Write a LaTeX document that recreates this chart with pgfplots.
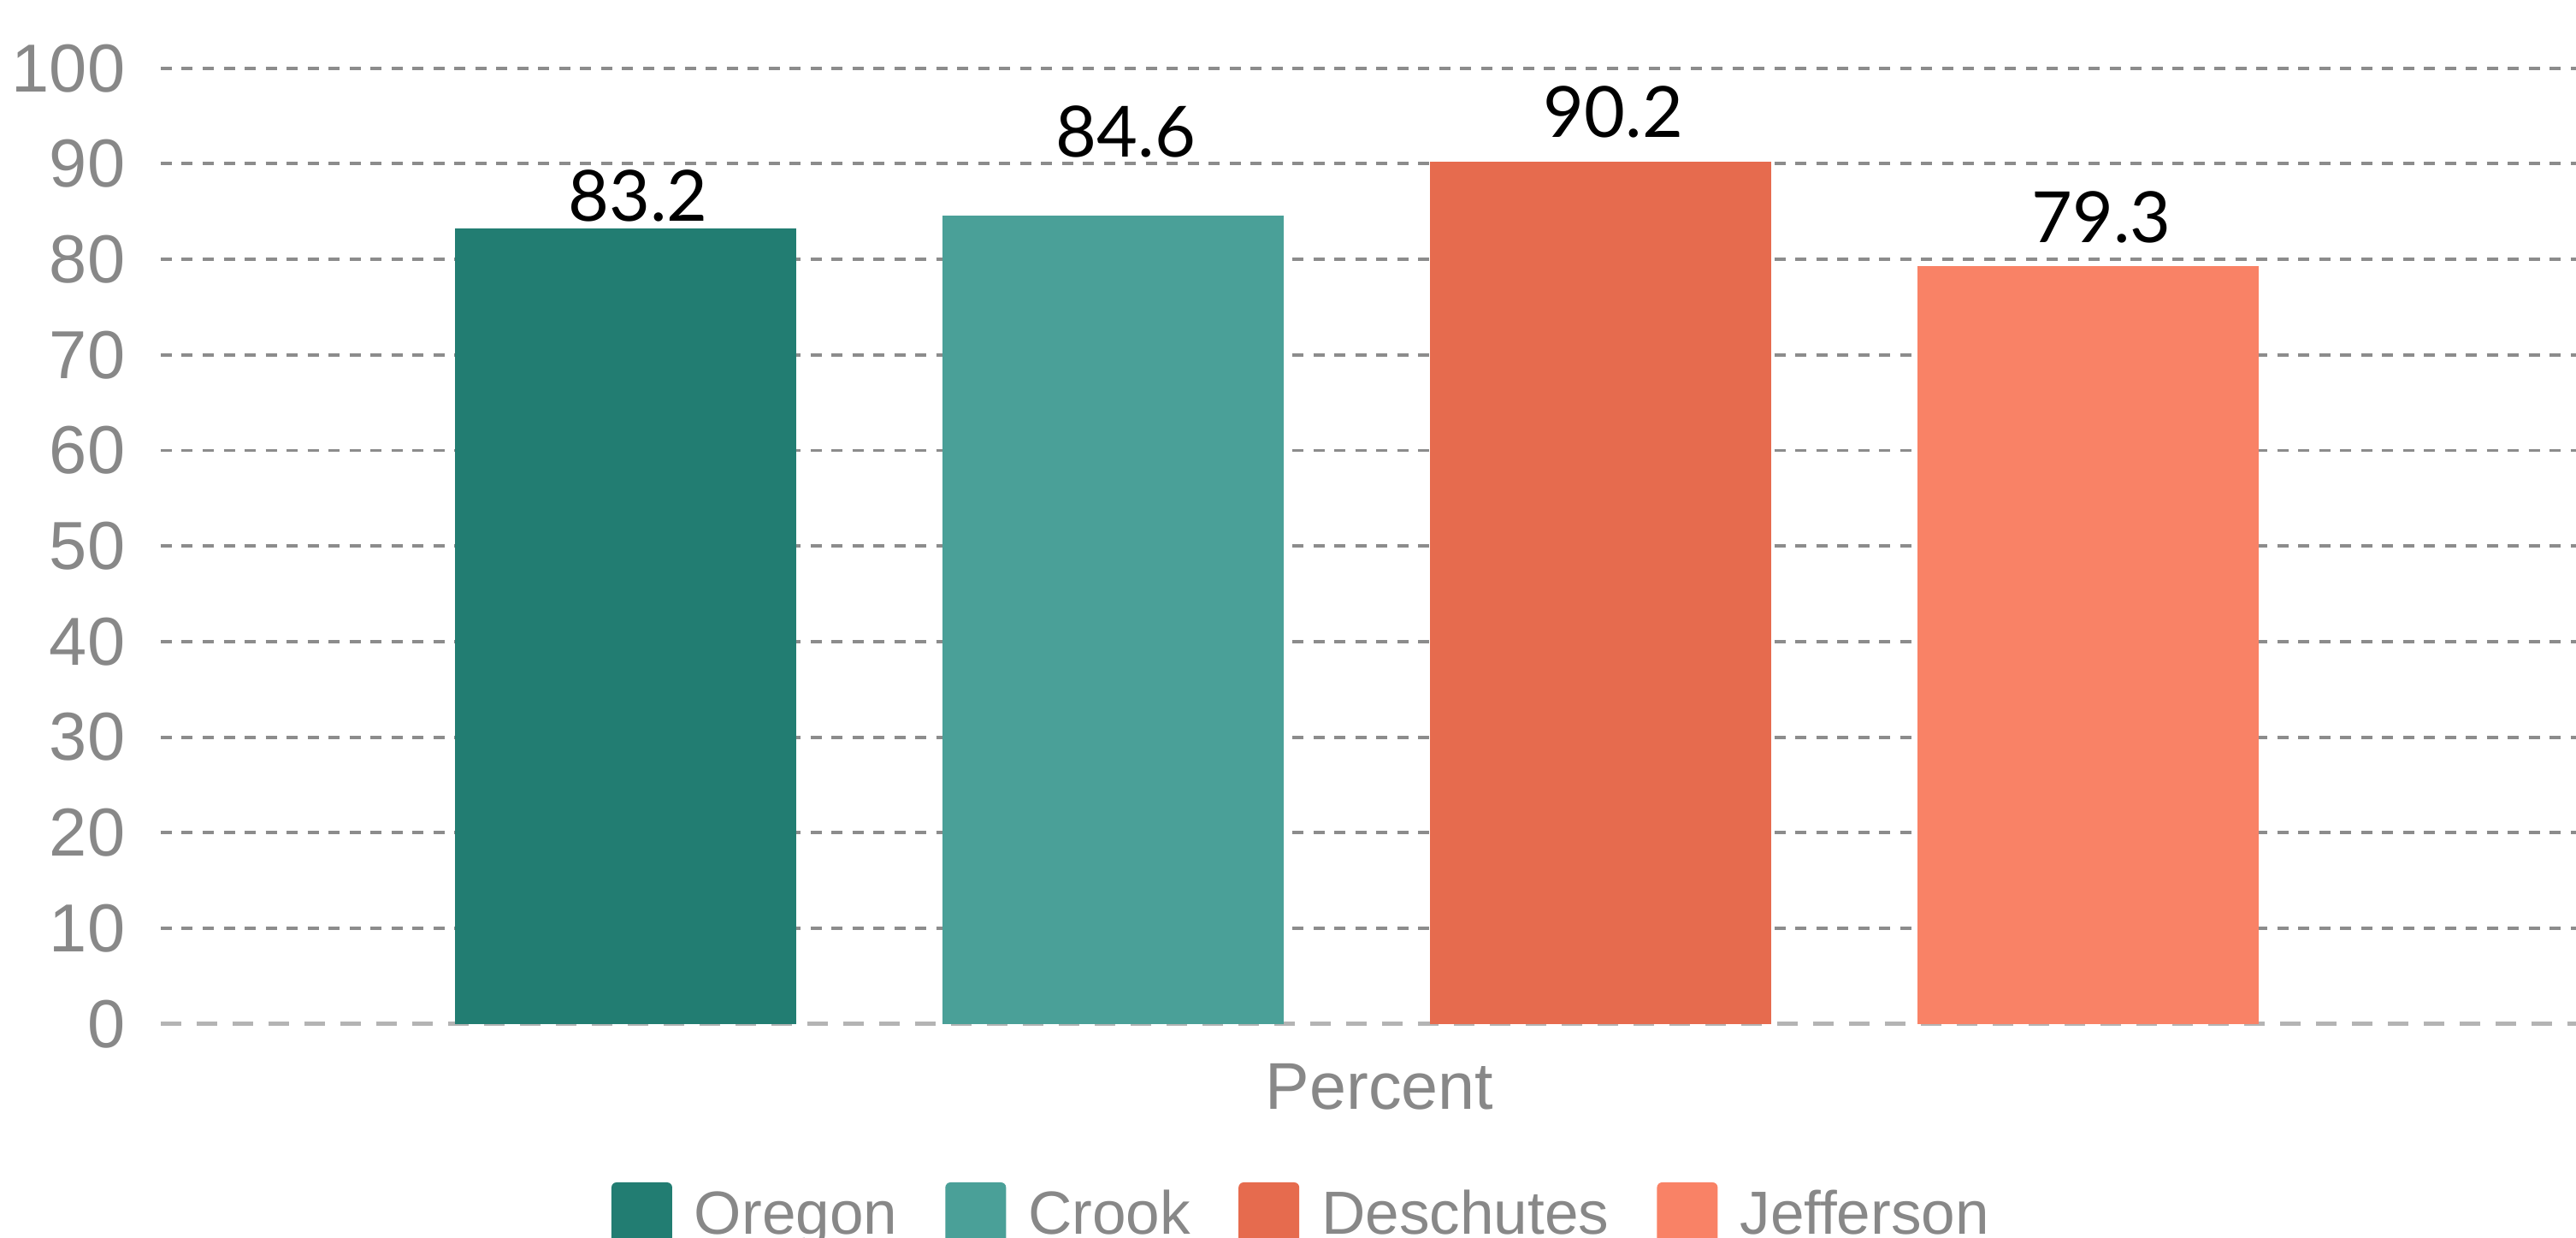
\documentclass[border=0pt]{standalone}
\usepackage{fontspec}
\setmainfont{Liberation Sans}
\newfontfamily\valfont{Lato}
\usepackage{pgfplots}
\pgfplotsset{compat=1.18}
\definecolor{coregon}{RGB}{34,125,114}
\definecolor{ccrook}{RGB}{74,160,152}
\definecolor{cdesch}{RGB}{230,107,78}
\definecolor{cjeff}{RGB}{249,130,102}
\definecolor{tickgray}{RGB}{136,136,136}
\definecolor{gridgray}{RGB}{140,140,140}
\definecolor{zerogray}{RGB}{180,180,180}
\begin{document}
\begin{tikzpicture}
\begin{axis}[
  at={(0,0)}, anchor=south west,
  scale only axis, width=28.24cm, height=11.17cm,
  xmin=0.0474, xmax=5.0, ymin=0, ymax=100,
  ybar, bar width=0.7,
  ytick={10,20,...,100},
  extra y ticks={0},
  extra y tick style={major grid style={draw=zerogray, line width=1.6pt, dash pattern=on 0.24cm off 0.18cm}},
  ymajorgrids,
  major grid style={draw=gridgray, line width=1.1pt, dash pattern=on 0.13cm off 0.115cm},
  xtick=\empty,
  axis line style={draw=none},
  major tick length=0pt,
  /pgf/number format/assume math mode=true,
  tick label style={font=\fontsize{22.6}{26}\selectfont, text=tickgray},
  yticklabel style={anchor=east, inner sep=0pt, xshift=-0.41cm},
  xlabel={Percent},
  xlabel style={at={(axis description cs:0.5046,0)}, anchor=base, yshift=-1.00cm, inner sep=0pt, font=\fontsize{22}{26}\selectfont, text=tickgray},
  nodes near coords={\pgfmathprintnumber[fixed,precision=1,zerofill]{\pgfplotspointmeta}},
  every node near coord/.append style={font=\valfont\fontsize{23.5}{27}\selectfont, text=black, anchor=base, inner sep=0pt, xshift=0.15cm},
  legend columns=4,
  legend image code/.code={\fill[#1, draw=none, rounded corners=0.06cm] (0cm,-0.10cm) rectangle (0.71cm,0.61cm);},
  legend style={draw=none, fill=none, inner sep=0pt, outer sep=0pt,
    at={(axis description cs:0.1866,-0.1659)}, anchor=north west,
    font=\fontsize{20.25}{24}\selectfont, text=tickgray,
    nodes={inner sep=0pt, anchor=base west},
    /tikz/every odd column/.append style={column sep=0.26cm},
    /tikz/every even column/.append style={column sep=0.56cm}},
]
\addplot[fill=coregon, draw=none, bar shift=0pt, every node near coord/.append style={yshift=0.09cm}] coordinates {(1,83.2)};
\addlegendentry{Oregon}
\addplot[fill=ccrook, draw=none, bar shift=0pt, every node near coord/.append style={yshift=0.68cm}] coordinates {(2,84.6)};
\addlegendentry{Crook}
\addplot[fill=cdesch, draw=none, bar shift=0pt, every node near coord/.append style={yshift=0.29cm}] coordinates {(3,90.2)};
\addlegendentry{Deschutes}
\addplot[fill=cjeff, draw=none, bar shift=0pt, every node near coord/.append style={yshift=0.27cm}] coordinates {(4,79.3)};
\addlegendentry{Jefferson}
\end{axis}
\pgfresetboundingbox
\useasboundingbox (-1.88cm,-2.503cm) rectangle (28.24cm,11.967cm);
\end{tikzpicture}
\end{document}
